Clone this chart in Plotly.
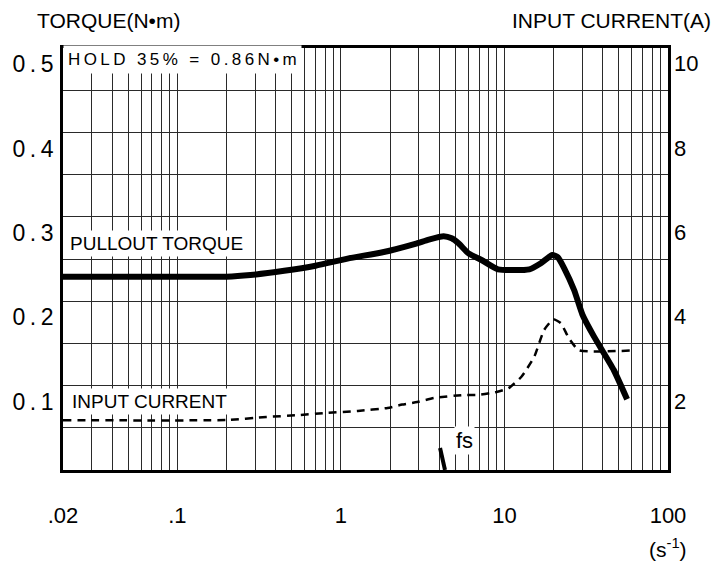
import plotly.graph_objects as go
import math

# ---------------- data ----------------
torque_freq = [0.02, 0.1, 0.2, 0.28, 0.45, 0.7, 1.13, 1.8, 2.85, 3.45, 4.25, 4.76,
               5.24, 6.03, 7.24, 9.14, 14.2, 16.7, 19.6, 21.2, 23.2, 26.7, 30.0,
               35.3, 46.6, 56.2]
torque_vals = [0.229, 0.229, 0.229, 0.231, 0.236, 0.242, 0.251, 0.258, 0.268, 0.273,
               0.277, 0.2745, 0.2686, 0.2567, 0.2488, 0.2378, 0.2378, 0.245, 0.2547,
               0.252, 0.239, 0.213, 0.184, 0.158, 0.1185, 0.0838]

current_freq = [0.02, 0.2, 0.35, 0.55, 0.8, 1.27, 1.93, 2.37, 2.93, 3.71, 5.63, 6.9,
                8.94, 10.6, 12.7, 15.2, 17.5, 19.9, 22.1, 24.8, 28.5, 58.8]
current_vals = [1.18, 1.185, 1.256, 1.30, 1.35, 1.40, 1.47, 1.55, 1.61, 1.706, 1.777,
                1.777, 1.85, 1.94, 2.21, 2.68, 3.32, 3.57, 3.48, 3.12, 2.84, 2.83]

fs_freq = [4.04, 4.33]
fs_torque = [0.026, 0.0]

x_tickvals = [0.02, 0.1, 1, 10, 100]
x_ticktext = [".02", ".1", "1", "10", "100"]
x_minor = [0.03, 0.04, 0.05, 0.06, 0.07, 0.08, 0.09,
           0.2, 0.3, 0.4, 0.5, 0.6, 0.7, 0.8, 0.9,
           2, 3, 4, 5, 6, 7, 8, 9,
           20, 30, 40, 50, 60, 70, 80, 90]
torque_ticks = [0.1, 0.2, 0.3, 0.4, 0.5]
torque_ticktext = ["0\u2009.\u20091", "0\u2009.\u20092", "0\u2009.\u20093",
                   "0\u2009.\u20094", "0\u2009.\u20095"]
torque_minor = [0.05, 0.15, 0.25, 0.35, 0.45]
current_ticks = [2, 4, 6, 8, 10]
current_ticktext = ["2", "4", "6", "8", "10"]

# ---------------- styling helpers ----------------
SANS = "Liberation Sans, Arial, sans-serif"


def spaced(s, sep="\u2009"):
    return sep.join(s)


fig = go.Figure()

fig.add_trace(go.Scatter(
    x=torque_freq, y=torque_vals, mode="lines",
    line=dict(color="black", width=6, shape="spline", smoothing=0.5),
    hoverinfo="skip", yaxis="y"))

fig.add_trace(go.Scatter(
    x=current_freq, y=current_vals, mode="lines",
    line=dict(color="black", width=2.5, dash="8px,6px", shape="spline", smoothing=0.5),
    hoverinfo="skip", yaxis="y2"))

fig.add_trace(go.Scatter(
    x=fs_freq, y=fs_torque, mode="lines",
    line=dict(color="black", width=4),
    hoverinfo="skip", yaxis="y", cliponaxis=False))

grid_col = "#2a2a2a"

fig.update_layout(
    width=717, height=567,
    margin=dict(l=58, r=49, t=48, b=97),
    plot_bgcolor="white", paper_bgcolor="white",
    showlegend=False,
    font=dict(family=SANS, color="black"),
    xaxis=dict(
        type="log", range=[math.log10(0.02), 2],
        tickvals=x_tickvals, ticktext=x_ticktext,
        tickfont=dict(family=SANS, size=22),
        ticks="", ticklabelstandoff=24,
        showgrid=True, gridcolor=grid_col, gridwidth=1,
        minor=dict(tickvals=x_minor, showgrid=True, gridcolor=grid_col, gridwidth=1, ticks=""),
        showline=True, mirror=True, linecolor="black", linewidth=2.5,
        zeroline=False,
    ),
    yaxis=dict(
        range=[0, 0.5],
        tickvals=torque_ticks, ticktext=torque_ticktext,
        tickfont=dict(family=SANS, size=23),
        ticks="", ticklabelposition="outside bottom", ticklabelstandoff=2,
        showgrid=True, gridcolor=grid_col, gridwidth=1,
        minor=dict(tickvals=torque_minor, showgrid=True, gridcolor=grid_col, gridwidth=1, ticks=""),
        showline=True, mirror=True, linecolor="black", linewidth=2.5,
        zeroline=False,
    ),
    yaxis2=dict(
        range=[0, 10], overlaying="y", side="right",
        tickvals=current_ticks, ticktext=current_ticktext,
        tickfont=dict(family=SANS, size=22),
        ticks="", ticklabelposition="outside bottom", ticklabelstandoff=5,
        showgrid=False, zeroline=False, showline=False,
    ),
)

annos = [
    dict(text="TORQUE(N•m)", x=-0.046, y=1.064, xanchor="left", yanchor="middle",
         font=dict(family=SANS, size=21)),
    dict(text="INPUT CURRENT(A)", x=1.074, y=1.064, xanchor="right", yanchor="middle",
         font=dict(family=SANS, size=21)),
    dict(text=spaced("HOLD 35% = 0.86N•m"), x=0.0, y=0.972, xanchor="left", yanchor="middle",
         font=dict(family=SANS, size=17), bgcolor="white", borderpad=4),
    dict(text="PULLOUT TORQUE", x=0.006, y=0.537, xanchor="left", yanchor="middle",
         font=dict(family=SANS, size=19), bgcolor="white", borderpad=2),
    dict(text="INPUT CURRENT", x=0.01, y=0.162, xanchor="left", yanchor="middle",
         font=dict(family=SANS, size=19), bgcolor="white", borderpad=2),
    dict(text="fs", x=0.664, y=0.071, xanchor="center", yanchor="middle",
         font=dict(family=SANS, size=22), bgcolor="white", borderpad=1),
    dict(text="(s<sup>-1</sup>)", x=1.0, y=-0.185, xanchor="center", yanchor="middle",
         font=dict(family=SANS, size=21)),
]
for a in annos:
    a.update(xref="paper", yref="paper", showarrow=False)
    fig.add_annotation(**a)

fig.write_html("out.html",
               config={"displayModeBar": False},
               post_script="document.body.style.margin='0';document.body.style.padding='0';")
